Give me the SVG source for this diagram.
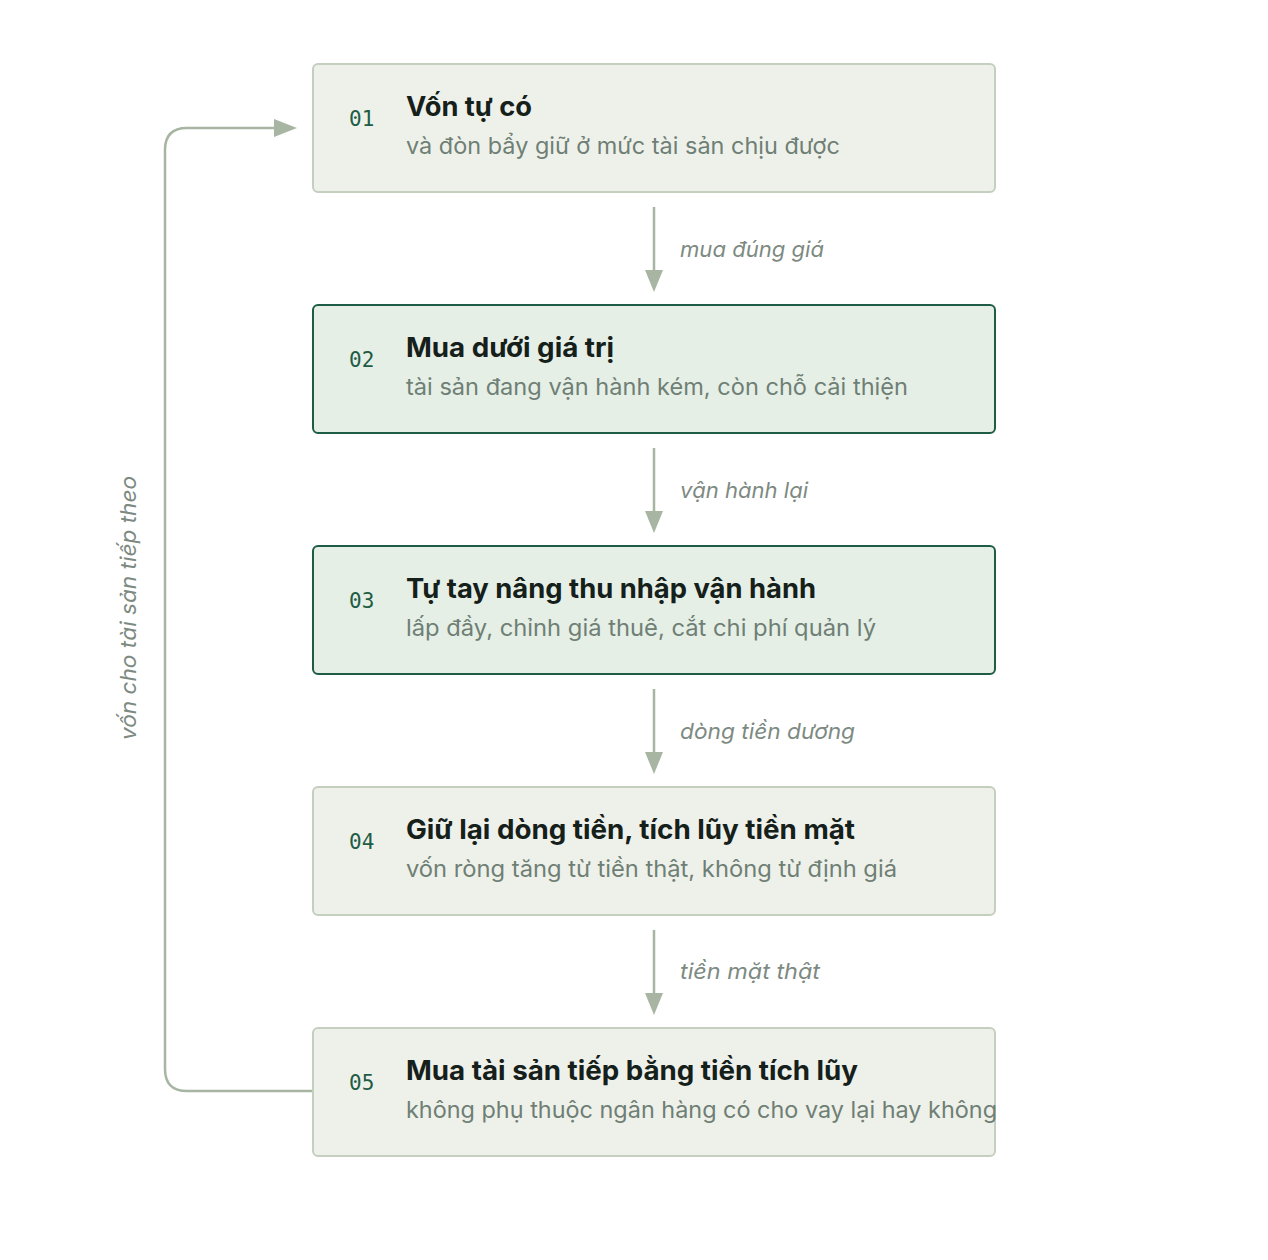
<svg xmlns="http://www.w3.org/2000/svg" width="1268" height="1260" viewBox="0 0 1268 1260">
<style>
.box{fill:#eef1ea;stroke:#c5cfc0;stroke-width:2}
.hl{fill:#e5efe6;stroke:#1f5c45;stroke-width:2}
.num{font-family:"DejaVu Sans Mono","Liberation Mono",monospace;font-size:21px;fill:#1f5c45}
.title{font-family:Inter,"Noto Sans",sans-serif;font-weight:700;font-size:27px;fill:#16201b}
.sub{font-family:Inter,"Noto Sans",sans-serif;font-size:23px;fill:#6f7f75}
.lbl{font-family:Inter,"Noto Sans",sans-serif;font-style:italic;font-size:22px;fill:#7d8a82}
.edge{fill:none;stroke:#a7b5a2;stroke-width:2.5}
.head{fill:#a7b5a2}
</style>
<rect width="1268" height="1260" fill="#ffffff"/>
<g id="connectors">
<path class="edge" d="M654,207 V275"/>
<path class="head" d="M645,270 L663,270 L654,292 z"/>
<path class="edge" d="M654,448 V516"/>
<path class="head" d="M645,511 L663,511 L654,533 z"/>
<path class="edge" d="M654,689 V757"/>
<path class="head" d="M645,752 L663,752 L654,774 z"/>
<path class="edge" d="M654,930 V998"/>
<path class="head" d="M645,993 L663,993 L654,1015 z"/>
<path class="edge" d="M313,1091 H187 Q165,1091 165,1069 V150 Q165,128 187,128 H278"/>
<path class="head" d="M274,119 L297,128 L274,137 z"/>
<text class="lbl" x="680" y="257" textLength="144" lengthAdjust="spacingAndGlyphs">mua đúng giá</text>
<text class="lbl" x="680" y="498" textLength="128" lengthAdjust="spacingAndGlyphs">vận hành lại</text>
<text class="lbl" x="680" y="739" textLength="175" lengthAdjust="spacingAndGlyphs">dòng tiền dương</text>
<text class="lbl" x="680" y="979" textLength="140" lengthAdjust="spacingAndGlyphs">tiền mặt thật</text>
<text class="lbl" transform="translate(136,608) rotate(-90)" x="-132" y="0" textLength="264" lengthAdjust="spacingAndGlyphs">vốn cho tài sản tiếp theo</text>
</g>
<g id="n1">
<rect class="box" x="313" y="64" width="682" height="128" rx="5"/>
<text class="num" x="349" y="126">01</text>
<text class="title" x="406" y="116" textLength="126" lengthAdjust="spacingAndGlyphs">Vốn tự có</text>
<text class="sub" x="406" y="154" textLength="434" lengthAdjust="spacingAndGlyphs">và đòn bẩy giữ ở mức tài sản chịu được</text>
</g>
<g id="n2">
<rect class="hl" x="313" y="305" width="682" height="128" rx="5"/>
<text class="num" x="349" y="367">02</text>
<text class="title" x="406" y="357" textLength="208" lengthAdjust="spacingAndGlyphs">Mua dưới giá trị</text>
<text class="sub" x="406" y="395" textLength="502" lengthAdjust="spacingAndGlyphs">tài sản đang vận hành kém, còn chỗ cải thiện</text>
</g>
<g id="n3">
<rect class="hl" x="313" y="546" width="682" height="128" rx="5"/>
<text class="num" x="349" y="608">03</text>
<text class="title" x="406" y="598" textLength="410" lengthAdjust="spacingAndGlyphs">Tự tay nâng thu nhập vận hành</text>
<text class="sub" x="406" y="636" textLength="470" lengthAdjust="spacingAndGlyphs">lấp đầy, chỉnh giá thuê, cắt chi phí quản lý</text>
</g>
<g id="n4">
<rect class="box" x="313" y="787" width="682" height="128" rx="5"/>
<text class="num" x="349" y="849">04</text>
<text class="title" x="406" y="839" textLength="449" lengthAdjust="spacingAndGlyphs">Giữ lại dòng tiền, tích lũy tiền mặt</text>
<text class="sub" x="406" y="877" textLength="491" lengthAdjust="spacingAndGlyphs">vốn ròng tăng từ tiền thật, không từ định giá</text>
</g>
<g id="n5">
<rect class="box" x="313" y="1028" width="682" height="128" rx="5"/>
<text class="num" x="349" y="1090">05</text>
<text class="title" x="406" y="1080" textLength="452" lengthAdjust="spacingAndGlyphs">Mua tài sản tiếp bằng tiền tích lũy</text>
<text class="sub" x="406" y="1118" textLength="591" lengthAdjust="spacingAndGlyphs">không phụ thuộc ngân hàng có cho vay lại hay không</text>
</g>
</svg>
